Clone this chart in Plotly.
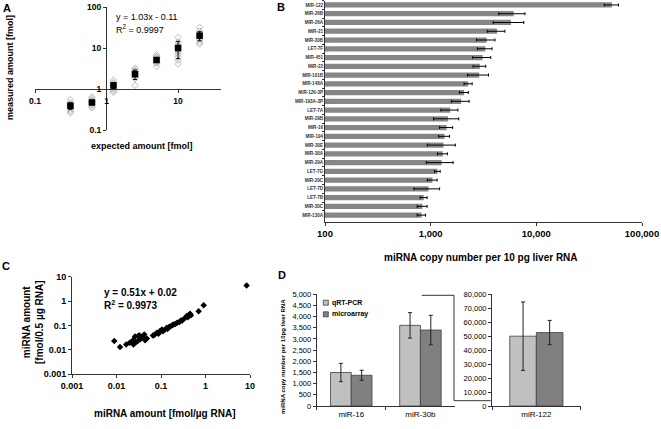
import plotly.graph_objects as go

W, H = 661, 429
FONT = "Liberation Sans, Arial, sans-serif"


def fx(px):
    return px / W


def fy(py):
    return 1 - py / H


# ---- panel A: spike-in dilution series ----
a_expected = [0.3125, 0.625, 1.25, 2.5, 5, 10, 20]
a_mean = [0.39, 0.47, 1.22, 2.3, 5.1, 10.0, 20.0]
a_sd = [0.07, 0.06, 0.2, 0.6, 0.6, 4.5, 5.0]
a_replicates = [
    [0.55, 0.47, 0.43, 0.40, 0.38, 0.35, 0.32, 0.29, 0.26],
    [0.64, 0.58, 0.53, 0.50, 0.48, 0.45, 0.42, 0.38, 0.35],
    [1.65, 1.45, 1.35, 1.25, 1.20, 1.10, 1.00, 0.90, 0.83],
    [3.2, 2.9, 2.7, 2.5, 2.3, 2.2, 2.0, 1.8, 1.23],
    [6.8, 6.2, 5.8, 5.4, 5.0, 4.8, 4.5, 4.2, 3.5],
    [18.0, 14.0, 12.0, 11.0, 10.0, 9.0, 8.0, 7.0, 6.0, 5.0, 4.1],
    [32, 26, 23, 21, 19, 18, 16, 14, 12.5],
]

# ---- panel B: liver miRNA copy numbers ----
b_mirnas = ["MIR-122", "MIR-26B", "MIR-26A", "MIR-21", "MIR-30B", "LET-7F", "MIR-451",
            "MIR-22", "MIR-101B", "MIR-148A", "MIR-126-3P", "MIR-193A-3P", "LET-7A",
            "MIR-29B", "MIR-16", "MIR-194", "MIR-30E", "MIR-30A", "MIR-29A", "LET-7G",
            "MIR-29C", "LET-7D", "LET-7B", "MIR-30C", "MIR-130A"]
b_copies = [51900, 6110, 5760, 4240, 3390, 3290, 3100, 2920, 2880, 2270, 2070, 1940, 1530,
            1455, 1415, 1350, 1320, 1300, 1270, 1160, 1040, 955, 860, 835, 820]
b_err = [8000, 1700, 1850, 800, 670, 520, 600, 400, 650, 200, 200, 370, 280,
         390, 200, 160, 390, 140, 360, 70, 110, 260, 65, 90, 75]

# ---- panel C: fmol/ug vs fmol/0.5ug ----
c_per_ug = [0.0089, 0.012, 0.0165, 0.0197, 0.0234, 0.024, 0.026, 0.027, 0.030, 0.031,
            0.033, 0.034, 0.036, 0.039, 0.042, 0.044, 0.048, 0.066, 0.072, 0.081,
            0.088, 0.095, 0.105, 0.11, 0.12, 0.135, 0.14, 0.15, 0.16, 0.176,
            0.19, 0.21, 0.23, 0.26, 0.28, 0.30, 0.34, 0.38, 0.40, 0.42,
            0.45, 0.47, 0.70, 0.91, 8.4]
c_per_half_ug = [0.023, 0.013, 0.0168, 0.0197, 0.025, 0.0168, 0.035, 0.020, 0.023, 0.038,
                 0.039, 0.027, 0.032, 0.035, 0.043, 0.025, 0.029, 0.039, 0.042, 0.050,
                 0.046, 0.060, 0.069, 0.058, 0.065, 0.081, 0.072, 0.085, 0.090, 0.10,
                 0.11, 0.115, 0.13, 0.14, 0.16, 0.16, 0.20, 0.245, 0.22, 0.27,
                 0.30, 0.26, 0.38, 0.67, 4.4]

# ---- panel D: qRT-PCR vs microarray ----
d_left = ["miR-16", "miR-30b"]
d_qpcr_left = [1500, 3610]
d_qpcr_left_err = [410, 570]
d_array_left = [1375, 3400]
d_array_left_err = [225, 660]
d_right = ["miR-122"]
d_qpcr_right = [50000]
d_qpcr_right_err = [24500]
d_array_right = [52600]
d_array_right_err = [8700]

QPCR_COL = "#c0c0c0"
ARRAY_COL = "#808080"
AXCOL = "#333333"

fig = go.Figure()

# A
for x, reps in zip(a_expected, a_replicates):
    fig.add_trace(go.Scatter(
        x=[x] * len(reps), y=reps, mode="markers", xaxis="x", yaxis="y",
        marker=dict(symbol="diamond-open", size=5, color="#a8a8a8", line=dict(width=0.8)),
        showlegend=False,
    ))
fig.add_trace(go.Scatter(
    x=a_expected, y=a_mean, mode="markers", xaxis="x", yaxis="y",
    marker=dict(symbol="square", size=6.5, color="black"),
    error_y=dict(type="data", array=a_sd, color="black", thickness=1, width=2),
    showlegend=False,
))

# B
fig.add_trace(go.Bar(
    x=b_copies, y=b_mirnas, orientation="h", xaxis="x2", yaxis="y2",
    marker=dict(color="#868686", line=dict(width=0)),
    error_x=dict(type="data", array=b_err, color="black", thickness=1, width=1.5),
    showlegend=False,
))

# C
fig.add_trace(go.Scatter(
    x=c_per_ug, y=c_per_half_ug, mode="markers", xaxis="x3", yaxis="y3",
    marker=dict(symbol="diamond", size=5, color="black"),
    showlegend=False,
))

# D
bar_line = dict(color="#404040", width=0.8)
err_style = dict(color="#222222", thickness=1, width=2)
fig.add_trace(go.Bar(x=d_left, y=d_qpcr_left, xaxis="x4", yaxis="y4", marker=dict(color=QPCR_COL, line=bar_line),
                     error_y=dict(type="data", array=d_qpcr_left_err, **err_style), showlegend=False))
fig.add_trace(go.Bar(x=d_left, y=d_array_left, xaxis="x4", yaxis="y4", marker=dict(color=ARRAY_COL, line=bar_line),
                     error_y=dict(type="data", array=d_array_left_err, **err_style), showlegend=False))
fig.add_trace(go.Bar(x=d_right, y=d_qpcr_right, xaxis="x5", yaxis="y5", marker=dict(color=QPCR_COL, line=bar_line),
                     error_y=dict(type="data", array=d_qpcr_right_err, **err_style), showlegend=False))
fig.add_trace(go.Bar(x=d_right, y=d_array_right, xaxis="x5", yaxis="y5", marker=dict(color=ARRAY_COL, line=bar_line),
                     error_y=dict(type="data", array=d_array_right_err, **err_style), showlegend=False))

bold = dict(family=FONT, size=8.5, color="black", weight=700)
ax_common = dict(showgrid=False, zeroline=False, showline=True, linecolor=AXCOL, linewidth=1,
                 ticks="outside", tickcolor=AXCOL, ticklen=3)

fig.update_layout(
    width=W, height=H, margin=dict(l=0, r=0, t=0, b=0), template="none",
    paper_bgcolor="white", plot_bgcolor="rgba(0,0,0,0)",
    font=dict(family=FONT, color="black"),
    barmode="group", bargap=0.4, bargroupgap=0,
    # A: axes cross at 1
    xaxis=dict(ax_common, type="log", range=[-1, 1.6], domain=[fx(35), fx(221)],
               anchor="free", position=fy(89.3), tickvals=[0.1, 1, 10], ticktext=["0.1", "1", "10"],
               tickfont=bold),
    yaxis=dict(ax_common, type="log", range=[-1, 2], domain=[fy(130), fy(7)],
               anchor="free", position=fx(106), tickvals=[0.1, 1, 10, 100],
               ticktext=["0.1", "1", "10", "100"], tickfont=bold),
    # B
    xaxis2=dict(ax_common, type="log", range=[2, 5], domain=[fx(325), fx(642)], anchor="y2",
                tickvals=[100, 1000, 10000, 100000], ticktext=["100", "1,000", "10,000", "100,000"],
                tickfont=dict(bold, size=9.5)),
    yaxis2=dict(ax_common, type="category", domain=[fy(221.7), fy(0.6)], anchor="x2",
                range=[24.75, -0.5], tickson="boundaries", ticklen=2,
                tickfont=dict(family=FONT, size=4.6, color="#333333", weight=700)),
    # C
    xaxis3=dict(ax_common, type="log", range=[-3, 1], domain=[fx(72), fx(250)], anchor="y3",
                tickvals=[0.001, 0.01, 0.1, 1, 10], ticktext=["0.001", "0.01", "0.1", "1", "10"],
                tickfont=dict(bold, size=9)),
    yaxis3=dict(ax_common, type="log", range=[-3, 1], domain=[fy(374.3), fy(276.7)], anchor="x3",
                tickvals=[0.001, 0.01, 0.1, 1, 10], ticktext=["0.001", "0.01", "0.1", "1", "10"],
                tickfont=dict(bold, size=9)),
    # D left
    xaxis4=dict(ax_common, domain=[fx(316.7), fx(455)], anchor="y4", tickson="boundaries",
                tickfont=dict(family=FONT, size=8, color="black")),
    yaxis4=dict(ax_common, range=[0, 5000], dtick=500, tickformat=",d", domain=[fy(406), fy(294.3)],
                anchor="x4", tickfont=dict(family=FONT, size=7.5, color="black")),
    # D right
    xaxis5=dict(ax_common, domain=[fx(492), fx(580.7)], anchor="y5", tickson="boundaries",
                tickfont=dict(family=FONT, size=8, color="black")),
    yaxis5=dict(ax_common, range=[0, 80000], dtick=10000, tickformat=",d", domain=[fy(406), fy(294.3)],
                anchor="x5", tickfont=dict(family=FONT, size=7.5, color="black")),
)


def note(text, x, y, size, bold_=True, angle=0, xanchor="center"):
    fig.add_annotation(text=text, x=fx(x), y=fy(y), xref="paper", yref="paper",
                       showarrow=False, textangle=angle, xanchor=xanchor, yanchor="middle",
                       font=dict(family=FONT, size=size, color="black", weight=700 if bold_ else 400))


# panel letters
note("A", 7, 8, 11)
note("B", 281, 7, 11)
note("C", 6, 266, 11)
note("D", 282, 274.5, 11)

# A texts
note("measured amount [fmol]", 10, 68, 9, angle=-90)
note("expected amount [fmol]", 142, 146, 9)
note("y = 1.03x - 0.11", 114, 17, 9, bold_=False, xanchor="left")
note("R<sup>2</sup> = 0.9997", 114, 29, 9, bold_=False, xanchor="left")

# B title
note("miRNA copy number per 10 pg liver RNA", 481, 257, 10)

# C texts
note("miRNA amount<br>[fmol/0.5 µg RNA]", 33, 322, 10, angle=-90)
note("miRNA amount [fmol/µg RNA]", 165, 413, 10)
note("y = 0.51x + 0.02", 102, 292, 10, xanchor="left")
note("R<sup>2</sup> = 0.9973", 102, 305, 10, xanchor="left")

# D texts and legend
note("miRNA copy number per 10pg liver RNA", 283, 357, 6, angle=-90)
for i, (lab, col) in enumerate([("qRT-PCR", QPCR_COL), ("microarray", ARRAY_COL)]):
    yc = 302.7 + i * 11.6
    fig.add_shape(type="rect", xref="paper", yref="paper",
                  x0=fx(323.3), x1=fx(328.3), y0=fy(yc + 2.5), y1=fy(yc - 2.5),
                  fillcolor=col, line=dict(color="#404040", width=0.8))
    note(lab, 330, yc, 7, xanchor="left")

# zoom bracket from miR-30b axis to the miR-122 axis
fig.add_shape(type="path", xref="paper", yref="paper",
              path=f"M {fx(421.7)} {fy(295.3)} L {fx(454)} {fy(295.3)} L {fx(454)} {fy(400.7)} L {fx(490.7)} {fy(400.7)}",
              line=dict(color=AXCOL, width=1))

fig.write_html("out.html", config={"displayModeBar": False},
               post_script="document.body.style.margin='0';")
